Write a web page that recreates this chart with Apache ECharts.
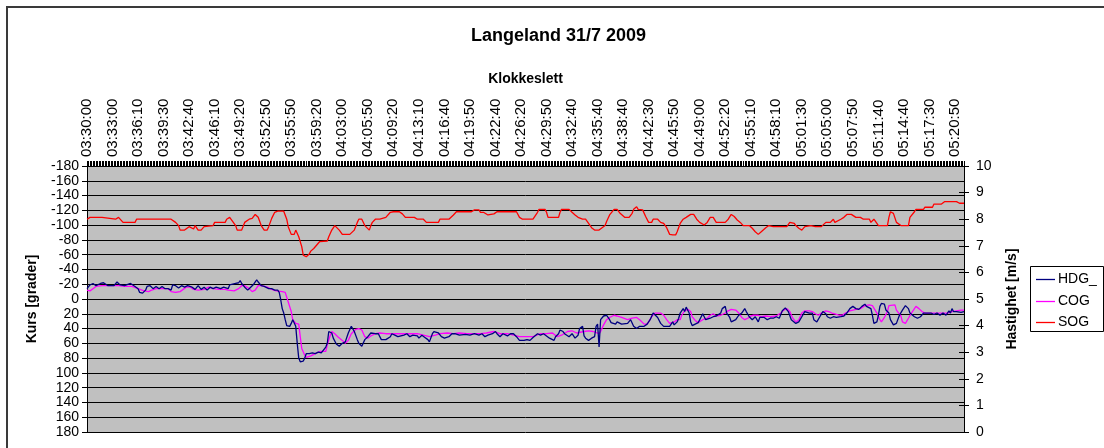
<!DOCTYPE html>
<html>
<head>
<meta charset="utf-8">
<title>Langeland 31/7 2009</title>
<script src="https://cdn.jsdelivr.net/npm/echarts@6/dist/echarts.min.js"></script>
<style>
  html, body { margin: 0; padding: 0; background: #ffffff; }
  #chart { width: 1104px; height: 448px; }
</style>
</head>
<body>
<div id="chart"></div>
<script>
// Log samples along the time axis; every 17th sample carries a clock label.
const sampleCount = 585;
const labelStep = 17;
const tickLabels = [
  '03:30:00','03:33:00','03:36:10','03:39:30','03:42:40','03:46:10','03:49:20',
  '03:52:50','03:55:50','03:59:20','04:03:00','04:05:50','04:09:20','04:13:10',
  '04:16:40','04:19:50','04:22:40','04:26:20','04:29:50','04:32:40','04:35:40',
  '04:38:40','04:42:30','04:45:50','04:49:00','04:52:20','04:55:10','04:58:10',
  '05:01:30','05:05:00','05:07:50','05:11:40','05:14:40','05:17:30','05:20:50'
];

// Heading, [sample index, degrees]
const hdg = [[0,-14],[2,-19],[4,-21],[6,-18],[9,-21],[11,-22],[12,-20],[14,-18],[18,-18],[20,-23],[22,-19],[25,-18],[29,-21],[30,-22],[32,-17],[34,-14],[35,-9],[37,-8],[39,-12],[40,-17],[42,-18],[44,-14],[46,-17],[48,-14],[50,-17],[52,-14],[54,-14],[56,-12],[57,-19],[59,-18],[61,-15],[63,-18],[65,-16],[67,-18],[70,-16],[72,-13],[74,-18],[76,-13],[78,-16],[80,-12],[82,-16],[84,-14],[86,-16],[89,-14],[91,-16],[94,-14],[95,-19],[96,-18],[99,-21],[101,-22],[102,-25],[103,-21],[105,-16],[107,-12],[109,-16],[111,-20],[113,-26],[114,-23],[116,-18],[118,-17],[121,-14],[123,-14],[125,-12],[127,-12],[128,-9],[129,1],[130,13],[131,19],[132,28],[133,36],[135,37],[136,33],[137,28],[139,37],[140,60],[141,80],[142,85],[144,84],[145,80],[146,74],[148,74],[150,73],[152,74],[154,72],[156,73],[159,65],[160,60],[161,44],[163,46],[164,53],[166,61],[168,64],[170,60],[172,58],[174,46],[176,37],[178,44],[180,55],[181,60],[183,64],[185,55],[187,51],[189,46],[192,47],[194,47],[196,55],[199,55],[202,51],[203,47],[205,49],[207,51],[211,49],[213,47],[215,51],[217,49],[220,50],[221,53],[223,49],[225,52],[227,55],[228,58],[230,47],[231,44],[232,42],[234,46],[236,51],[238,53],[241,51],[243,47],[245,47],[248,49],[252,48],[255,49],[258,47],[261,49],[263,47],[265,51],[267,49],[270,47],[272,44],[273,47],[275,51],[277,47],[280,50],[282,47],[284,47],[286,51],[288,56],[291,56],[293,55],[295,56],[297,52],[300,47],[302,49],[304,47],[306,50],[308,53],[311,56],[312,51],[314,47],[315,42],[317,44],[318,47],[321,51],[323,47],[325,53],[327,49],[328,40],[330,37],[331,50],[332,53],[334,56],[336,53],[338,51],[339,37],[340,34],[341,65],[342,28],[344,23],[346,22],[348,28],[349,32],[352,34],[353,31],[356,34],[357,35],[360,33],[362,28],[363,28],[364,37],[366,40],[368,37],[371,37],[373,34],[375,28],[377,19],[378,20],[380,25],[382,33],[384,37],[386,37],[388,37],[390,31],[391,35],[393,31],[394,26],[395,19],[397,13],[398,17],[399,11],[401,19],[402,31],[403,36],[405,34],[407,32],[408,28],[410,20],[411,24],[412,28],[415,26],[417,24],[419,23],[422,19],[423,13],[425,10],[426,19],[428,25],[429,31],[432,28],[434,22],[436,19],[438,13],[439,17],[441,24],[443,28],[445,24],[447,31],[448,25],[451,25],[453,28],[455,26],[457,26],[459,24],[461,26],[463,16],[465,12],[467,17],[469,28],[472,33],[474,31],[476,24],[478,17],[481,19],[483,19],[484,28],[486,31],[488,24],[490,17],[492,20],[493,24],[495,26],[497,24],[499,25],[502,24],[504,23],[506,19],[508,13],[510,10],[512,13],[514,14],[516,10],[518,7],[519,10],[522,13],[523,22],[524,33],[525,35],[526,31],[527,22],[528,10],[529,6],[531,7],[532,15],[534,19],[535,28],[537,35],[538,37],[539,33],[541,22],[543,15],[545,9],[547,13],[548,19],[551,24],[553,26],[555,24],[557,19],[559,19],[562,19],[564,21],[566,19],[568,22],[570,19],[572,22],[574,16],[575,19],[576,13],[577,17],[579,17],[582,18],[584,17]];

// Course over ground, [sample index, degrees]
const cog = [[0,-12],[2,-11],[4,-14],[6,-17],[10,-18],[16,-18],[21,-18],[25,-17],[30,-17],[34,-14],[38,-11],[41,-10],[43,-12],[46,-14],[50,-14],[54,-14],[56,-10],[59,-9],[62,-10],[64,-13],[66,-16],[69,-16],[71,-13],[74,-12],[78,-13],[81,-16],[84,-14],[88,-13],[92,-13],[94,-12],[98,-11],[101,-14],[103,-18],[105,-18],[108,-14],[110,-10],[112,-12],[114,-18],[116,-18],[120,-16],[123,-13],[126,-11],[130,-10],[132,-9],[134,4],[136,17],[137,28],[139,33],[141,34],[142,51],[143,67],[145,76],[146,79],[149,77],[152,74],[155,71],[159,71],[160,62],[162,49],[163,44],[165,47],[167,51],[170,56],[172,60],[174,56],[176,47],[179,41],[181,40],[183,42],[185,51],[187,53],[189,50],[192,47],[195,46],[199,47],[202,47],[206,47],[211,47],[215,47],[220,47],[224,49],[228,51],[232,49],[235,47],[240,46],[244,47],[248,46],[253,47],[257,47],[262,47],[266,46],[271,44],[275,47],[280,47],[284,49],[288,51],[293,51],[297,51],[302,47],[306,47],[310,46],[313,51],[316,49],[320,44],[323,43],[326,46],[331,44],[334,43],[337,44],[341,47],[342,44],[344,35],[346,28],[348,25],[351,22],[353,23],[356,25],[360,28],[363,26],[366,25],[368,28],[371,34],[373,34],[376,24],[378,19],[382,19],[384,22],[386,28],[388,33],[391,31],[393,28],[395,28],[396,22],[398,16],[400,14],[402,17],[403,24],[405,29],[407,32],[408,31],[410,28],[413,26],[415,22],[417,20],[419,23],[422,22],[425,19],[427,16],[429,14],[432,15],[434,19],[436,25],[438,28],[440,26],[442,23],[444,22],[447,22],[449,24],[452,23],[455,24],[459,23],[462,19],[464,15],[466,13],[468,17],[470,26],[472,31],[474,28],[476,19],[478,16],[481,16],[483,17],[485,20],[487,22],[489,19],[492,16],[494,17],[496,19],[498,20],[501,22],[503,22],[505,19],[508,16],[512,14],[515,13],[518,9],[521,8],[523,9],[524,10],[526,19],[528,28],[529,31],[531,25],[533,17],[534,9],[535,7],[538,8],[539,15],[542,23],[543,31],[545,33],[547,26],[549,19],[552,10],[554,13],[556,17],[558,19],[561,19],[564,19],[568,19],[573,19],[576,17],[579,16],[582,15],[584,15]];

// Speed over ground, [sample index, m/s]
const sog = [[0,8.00],[2,8.07],[10,8.07],[11,8.00],[19,8.00],[20,8.07],[21,8.07],[22,8.00],[24,7.88],[32,7.88],[33,8.00],[40,8.00],[41,8.07],[42,8.00],[56,8.00],[59,7.88],[61,7.76],[62,7.59],[65,7.59],[68,7.72],[69,7.76],[71,7.63],[72,7.76],[74,7.59],[76,7.59],[78,7.72],[79,7.76],[84,7.76],[85,7.88],[92,7.88],[93,8.00],[95,8.07],[96,8.00],[99,7.76],[100,7.59],[103,7.59],[105,7.88],[108,8.00],[110,8.03],[112,8.18],[114,8.07],[116,7.76],[118,7.59],[120,7.59],[121,7.72],[123,8.03],[125,8.26],[127,8.30],[131,8.30],[133,8.00],[134,7.72],[136,7.43],[138,7.43],[139,7.59],[140,7.59],[141,7.34],[143,6.97],[144,6.65],[146,6.59],[148,6.69],[149,6.80],[151,6.90],[153,7.03],[155,7.16],[160,7.18],[161,7.34],[163,7.59],[165,7.76],[166,7.72],[168,7.59],[170,7.43],[175,7.43],[178,7.59],[180,7.88],[181,8.00],[183,8.00],[185,7.76],[188,7.59],[189,7.76],[190,7.88],[192,8.00],[195,8.00],[196,8.07],[199,8.07],[202,8.26],[204,8.28],[208,8.28],[210,8.20],[212,8.07],[218,8.07],[220,8.00],[224,8.00],[226,7.88],[234,7.88],[235,8.00],[237,8.00],[238,8.07],[241,8.00],[242,8.07],[244,8.16],[246,8.28],[256,8.28],[258,8.35],[261,8.35],[262,8.26],[264,8.26],[267,8.16],[268,8.10],[271,8.20],[273,8.28],[286,8.28],[288,8.07],[290,8.00],[297,8.00],[300,8.26],[301,8.37],[305,8.37],[306,8.26],[307,8.07],[314,8.07],[315,8.26],[316,8.37],[321,8.37],[323,8.26],[325,8.16],[327,8.07],[328,8.07],[330,8.00],[332,8.00],[334,7.84],[336,7.68],[338,7.59],[341,7.59],[343,7.68],[345,7.76],[346,7.91],[348,8.16],[351,8.37],[353,8.37],[355,8.22],[358,8.07],[361,8.07],[363,8.22],[364,8.37],[366,8.47],[367,8.37],[370,8.35],[372,8.10],[374,7.88],[376,7.88],[377,8.00],[380,8.00],[382,7.88],[384,7.84],[386,7.68],[388,7.43],[390,7.41],[392,7.41],[393,7.53],[395,7.84],[397,8.00],[399,8.07],[402,8.18],[404,8.18],[406,8.00],[408,7.88],[411,7.78],[413,7.88],[415,8.07],[417,8.07],[419,7.88],[425,7.88],[427,8.00],[429,8.18],[431,8.10],[433,7.97],[435,7.88],[437,7.76],[441,7.76],[443,7.66],[445,7.53],[447,7.43],[449,7.53],[452,7.68],[454,7.76],[457,7.72],[466,7.72],[468,7.88],[471,7.84],[472,7.76],[474,7.66],[476,7.59],[478,7.72],[482,7.76],[485,7.72],[489,7.72],[492,7.88],[495,7.88],[497,8.00],[498,7.88],[502,8.00],[504,8.07],[506,8.18],[509,8.18],[512,8.07],[515,8.07],[517,8.00],[521,8.00],[522,7.88],[524,8.00],[526,7.84],[527,7.76],[533,7.76],[534,8.07],[535,8.28],[537,8.22],[539,7.88],[542,7.76],[547,7.76],[548,8.07],[551,8.28],[552,8.37],[557,8.37],[558,8.45],[563,8.45],[564,8.57],[569,8.57],[571,8.66],[579,8.66],[581,8.60],[584,8.60]];

const seriesNames = ['HDG_', 'COG', 'SOG'];
const seriesColors = ['#000080', '#ff00ff', '#ff0000'];

const FONT = "'Liberation Sans', Arial, sans-serif";
const LINE_W = 1.3;

const categories = [];
for (let i = 0; i < sampleCount; i++) categories.push(i);

// Boxed key on the right: a short stroke plus the series name per row.
const keyBox = { x: 1030, y: 266, w: 73, h: 65, rowTop: 279, rowGap: 21.5 };
const keyGraphics = [{
  type: 'rect',
  shape: { x: keyBox.x + 0.5, y: keyBox.y + 0.5, width: keyBox.w, height: keyBox.h },
  style: { fill: '#ffffff', stroke: '#000', lineWidth: 1 },
  silent: true, z: 10
}];
seriesNames.forEach(function (name, k) {
  const cy = Math.round(keyBox.rowTop + k * keyBox.rowGap) + 0.5;
  keyGraphics.push({
    type: 'line',
    shape: { x1: keyBox.x + 6, y1: cy, x2: keyBox.x + 25, y2: cy },
    style: { stroke: seriesColors[k], lineWidth: LINE_W },
    silent: true, z: 11
  });
  keyGraphics.push({
    type: 'text',
    x: keyBox.x + 28, y: cy,
    style: { text: name, fill: '#000', font: '14px ' + FONT, textVerticalAlign: 'middle', verticalAlign: 'middle' },
    silent: true, z: 11
  });
});

const chart = echarts.init(document.getElementById('chart'), null, { renderer: 'canvas' });

chart.setOption({
  animation: false,
  backgroundColor: '#ffffff',
  textStyle: { fontFamily: FONT, color: '#000' },
  title: {
    text: 'Langeland 31/7 2009',
    left: 466,
    top: 22,
    textStyle: { fontFamily: FONT, fontSize: 18, fontWeight: 'bold', color: '#000' }
  },
  graphic: [{
    type: 'rect',
    shape: { x: 7, y: 7, width: 1110, height: 460 },
    style: { fill: 'none', stroke: '#3a3a3a', lineWidth: 2 },
    silent: true
  }].concat(keyGraphics),
  grid: {
    left: 87, right: 140, top: 166, bottom: 16,
    show: true,
    backgroundColor: '#c0c0c0',
    borderWidth: 0
  },
  xAxis: {
    type: 'category',
    position: 'top',
    data: categories,
    boundaryGap: false,
    name: 'Klokkeslett',
    nameLocation: 'middle',
    nameGap: 80,
    nameTextStyle: { fontFamily: FONT, fontSize: 14, fontWeight: 'bold', color: '#000' },
    axisLine: { show: true, onZero: false, lineStyle: { color: '#000', width: 1 } },
    axisTick: { show: true, interval: 0, length: 5, inside: false, lineStyle: { color: '#000', width: 1 } },
    axisLabel: {
      interval: labelStep - 1,
      rotate: -90,
      margin: 9,
      fontFamily: FONT,
      fontSize: 15,
      color: '#000',
      formatter: function (value, index) {
        return index % labelStep === 0 ? tickLabels[index / labelStep] : '';
      }
    },
    splitLine: { show: false }
  },
  yAxis: [{
    type: 'value',
    position: 'left',
    inverse: true,
    min: -180,
    max: 180,
    interval: 20,
    name: 'Kurs [grader]',
    nameLocation: 'middle',
    nameRotate: 90,
    nameGap: 48,
    nameTextStyle: { fontFamily: FONT, fontSize: 14, fontWeight: 'bold', color: '#000' },
    axisLine: { show: true, onZero: false, lineStyle: { color: '#000', width: 1 } },
    axisTick: { show: true, length: 5, inside: false, lineStyle: { color: '#000' } },
    axisLabel: { margin: 8, fontFamily: FONT, fontSize: 14, color: '#000' },
    splitLine: { show: true, lineStyle: { color: '#000', width: 1 } }
  }, {
    type: 'value',
    position: 'right',
    min: 0,
    max: 10,
    interval: 1,
    name: 'Hastighet [m/s]',
    nameLocation: 'middle',
    nameRotate: 90,
    nameGap: 41,
    nameTextStyle: { fontFamily: FONT, fontSize: 14, fontWeight: 'bold', color: '#000' },
    axisLine: { show: true, onZero: false, lineStyle: { color: '#000', width: 1 } },
    axisTick: { show: true, length: 5, inside: false, lineStyle: { color: '#000' } },
    axisLabel: { margin: 12, fontFamily: FONT, fontSize: 14, color: '#000' },
    splitLine: { show: false }
  }, {
    // inner half of the crossing speed ticks
    type: 'value',
    position: 'right',
    min: 0,
    max: 10,
    interval: 1,
    axisLine: { show: false, onZero: false },
    axisTick: { show: true, length: 5, inside: true, lineStyle: { color: '#000' } },
    axisLabel: { show: false },
    splitLine: { show: false }
  }],
  series: [{
    name: seriesNames[0],
    type: 'line',
    yAxisIndex: 0,
    data: hdg,
    symbol: 'none',
    lineStyle: { color: seriesColors[0], width: LINE_W },
    itemStyle: { color: seriesColors[0] },
    z: 3
  }, {
    name: seriesNames[1],
    type: 'line',
    yAxisIndex: 0,
    data: cog,
    symbol: 'none',
    lineStyle: { color: seriesColors[1], width: LINE_W },
    itemStyle: { color: seriesColors[1] },
    z: 2
  }, {
    name: seriesNames[2],
    type: 'line',
    yAxisIndex: 1,
    data: sog,
    symbol: 'none',
    lineStyle: { color: seriesColors[2], width: LINE_W },
    itemStyle: { color: seriesColors[2] },
    z: 2
  }]
});
</script>
</body>
</html>
